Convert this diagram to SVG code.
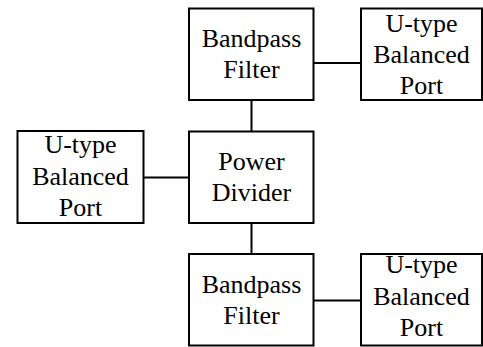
<svg xmlns="http://www.w3.org/2000/svg" width="483" height="347" viewBox="0 0 483 347">
<style>
.box{fill:#fff;stroke:#000;stroke-width:2}
.ln{stroke:#000;stroke-width:2;fill:none}
text{font-family:"Liberation Serif","Times New Roman",serif;font-size:26px;fill:#000;text-anchor:middle}
</style>
<rect width="483" height="347" fill="#fff"/>
<g id="connectors">
<line class="ln" x1="313.5" y1="63" x2="361" y2="63"/>
<line class="ln" x1="251.5" y1="100" x2="251.5" y2="131.5"/>
<line class="ln" x1="143.5" y1="177.5" x2="189" y2="177.5"/>
<line class="ln" x1="251.5" y1="223" x2="251.5" y2="254"/>
<line class="ln" x1="313.5" y1="300.5" x2="361" y2="300.5"/>
</g>
<g id="bpf-top">
<rect class="box" x="189" y="8.5" width="124.5" height="91.5"/>
<text x="251.5" y="47">Bandpass</text>
<text x="251.5" y="78">Filter</text>
</g>
<g id="port-top">
<rect class="box" x="361" y="8.5" width="121" height="91.5"/>
<text x="421.5" y="32">U-type</text>
<text x="421.5" y="63">Balanced</text>
<text x="421.5" y="94">Port</text>
</g>
<g id="port-left">
<rect class="box" x="17.5" y="131" width="126" height="92"/>
<text x="80.5" y="153">U-type</text>
<text x="80.5" y="185">Balanced</text>
<text x="80.5" y="216">Port</text>
</g>
<g id="power-divider">
<rect class="box" x="189" y="131.5" width="124.5" height="91.5"/>
<text x="251.5" y="170">Power</text>
<text x="251.5" y="201">Divider</text>
</g>
<g id="bpf-bottom">
<rect class="box" x="189" y="254" width="124.5" height="91.5"/>
<text x="251.5" y="293">Bandpass</text>
<text x="251.5" y="324">Filter</text>
</g>
<g id="port-bottom">
<rect class="box" x="361" y="254" width="121" height="91.5"/>
<text x="421.5" y="273">U-type</text>
<text x="421.5" y="305">Balanced</text>
<text x="421.5" y="336">Port</text>
</g>
</svg>
